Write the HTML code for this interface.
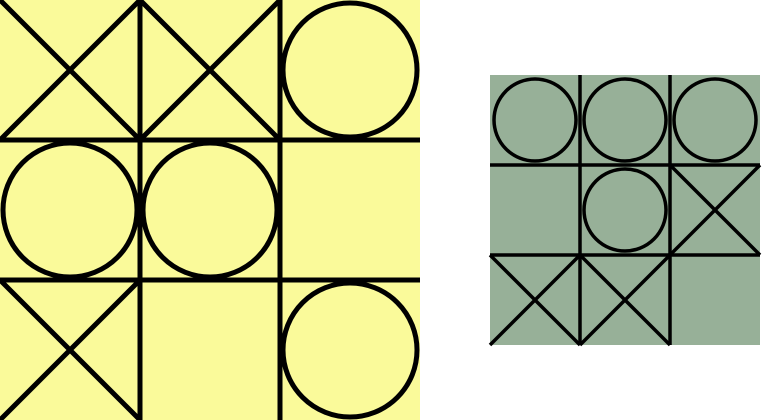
<!DOCTYPE html>
<html><head><meta charset="utf-8"><style>
html,body{margin:0;padding:0;background:#fff;width:763px;height:420px;overflow:hidden}
svg{display:block}
</style></head><body>
<svg id="s" width="763" height="420"></svg>
<script>
const boardA = ["X","X","O","O","O","","X","","O"];
const boardB = ["O","O","O","","O","X","X","X",""];
const NS="http://www.w3.org/2000/svg";
const svg=document.getElementById('s');
function mk(t,a,p){const e=document.createElementNS(NS,t);for(const k in a)e.setAttribute(k,a[k]);p.appendChild(e);return e;}
function drawBoard(cells,x0,y0,size,fill,sw,r,name){
  const g=mk('g',{},svg);
  
  
  const bg=mk('rect',{x:x0,y:y0,width:size,height:size,fill:fill},g);
  
  
  const c=size/3;
  for(let i=1;i<3;i++){
    const v=mk('line',{x1:x0+i*c,y1:y0,x2:x0+i*c,y2:y0+size,stroke:'#000','stroke-width':sw},g);
    
    
    const h=mk('line',{x1:x0,y1:y0+i*c,x2:x0+size,y2:y0+i*c,stroke:'#000','stroke-width':sw},g);
    
    
  }
  cells.forEach((m,i)=>{
    const cx=x0+(i%3)*c, cy=y0+Math.floor(i/3)*c;
    const cg=mk('g',{},g);
    
    
    mk('rect',{x:cx,y:cy,width:c,height:c,fill:'transparent'},cg);
    if(m==='X'){
      const p=mk('path',{d:`M${cx} ${cy}L${cx+c} ${cy+c}M${cx+c} ${cy}L${cx} ${cy+c}`,stroke:'#000','stroke-width':sw,fill:'none'},cg);
      
      
    } else if(m==='O'){
      const o=mk('circle',{cx:cx+c/2,cy:cy+c/2,r:r,stroke:'#000','stroke-width':sw,fill:'none'},cg);
      
      
    }
  });
}
drawBoard(boardA,0,0,420,'#fafa9a',5,67,'board-large');
drawBoard(boardB,490,75,270,'#97b098',3.5,41,'board-small');
</script>
</body></html>
